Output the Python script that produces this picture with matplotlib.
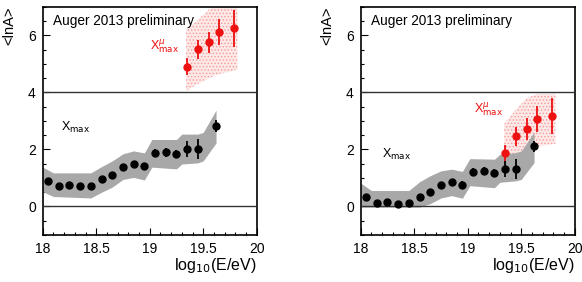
import numpy as np
import matplotlib
matplotlib.use("Agg")
import matplotlib.pyplot as plt
from matplotlib.ticker import MultipleLocator

plt.rcParams['font.family'] = ['Liberation Sans', 'DejaVu Sans']
plt.rcParams['hatch.linewidth'] = 0.6

# energy bins
x_xmax = [18.05, 18.15, 18.25, 18.35, 18.45, 18.55, 18.65, 18.75, 18.85, 18.95,
          19.05, 19.15, 19.25, 19.35, 19.45, 19.62]
x_mu = [19.35, 19.45, 19.55, 19.65, 19.79]

# left panel (first model)
lnA_xmax_L = [0.90, 0.72, 0.76, 0.72, 0.73, 0.97, 1.12, 1.40, 1.49, 1.41,
              1.88, 1.90, 1.84, 2.01, 2.02, 2.82]
lnA_mu_L = [4.90, 5.52, 5.76, 6.13, 6.25]
# right panel (second model)
lnA_xmax_R = [0.32, 0.14, 0.16, 0.10, 0.12, 0.35, 0.50, 0.77, 0.85, 0.77,
              1.22, 1.24, 1.17, 1.32, 1.31, 2.11]
lnA_mu_R = [1.87, 2.47, 2.71, 3.07, 3.17]

# statistical errors
err_xmax = [0.05, 0.05, 0.05, 0.05, 0.05, 0.06, 0.07, 0.08, 0.08, 0.12,
            0.12, 0.15, 0.15, 0.28, 0.35, 0.20]
err_mu = [0.30, 0.33, 0.38, 0.45, 0.64]

# systematic bands
band_x = [18.0, 18.1, 18.45, 18.55, 18.65, 18.75, 18.85, 18.95, 19.02,
          19.25, 19.3, 19.45, 19.5, 19.62]
band_hi_L = [1.38, 1.18, 1.18, 1.40, 1.60, 1.85, 1.95, 1.88, 2.35,
             2.35, 2.54, 2.54, 2.60, 3.38]
band_lo_L = [0.52, 0.35, 0.30, 0.50, 0.68, 0.95, 1.02, 0.93, 1.38,
             1.32, 1.49, 1.53, 1.60, 2.23]
band_hi_R = [0.82, 0.56, 0.56, 0.87, 1.08, 1.25, 1.31, 1.23, 1.68,
             1.66, 1.83, 1.89, 1.95, 2.61]
band_lo_R = [-0.02, -0.02, -0.02, -0.02, 0.10, 0.30, 0.38, 0.29, 0.73,
             0.66, 0.85, 0.90, 0.95, 1.54]

mu_band_x = [19.34, 19.45, 19.55, 19.65, 19.82]
mu_hi_L = [6.20, 6.55, 6.90, 7.10, 7.30]
mu_lo_L = [4.05, 4.30, 4.50, 4.65, 4.80]
mu_hi_R = [2.90, 3.40, 3.80, 3.95, 3.95]
mu_lo_R = [1.60, 1.80, 2.00, 2.10, 2.20]

panels = [
    (lnA_xmax_L, lnA_mu_L, band_lo_L, band_hi_L, mu_lo_L, mu_hi_L, (18.17, 2.79), (19.0, 5.63)),
    (lnA_xmax_R, lnA_mu_R, band_lo_R, band_hi_R, mu_lo_R, mu_hi_R, (18.2, 1.83), (19.06, 3.4)),
]

fig = plt.figure(figsize=(5.82, 2.82), dpi=100)
lefts = [0.0734, 0.6198]

for left, (yx, ym, blo, bhi, mlo, mhi, pos_x, pos_m) in zip(lefts, panels):
    ax = fig.add_axes([left, 0.1667, 0.3677, 0.8085])
    ax.fill_between(mu_band_x, mlo, mhi, facecolor='#fde8e8', edgecolor='#f59a9a',
                    hatch='.....', linewidth=0, zorder=1)
    ax.fill_between(band_x, blo, bhi, color='#a8a8a8', linewidth=0, zorder=2)
    ax.axhline(0, color='#333333', lw=1.0, zorder=3)
    ax.axhline(4, color='#333333', lw=1.0, zorder=3)
    ax.errorbar(x_mu, ym, yerr=err_mu, fmt='o', color='#ee1111', ms=5,
                elinewidth=1.3, capsize=0, zorder=4)
    ax.errorbar(x_xmax, yx, yerr=err_xmax, fmt='o', color='black', ms=5,
                elinewidth=1.3, capsize=0, zorder=5)

    ax.text(18.1, 6.5, 'Auger 2013 preliminary', fontsize=9.8, va='center')
    ax.text(pos_x[0], pos_x[1], r'X$_{\rm max}$', fontsize=9, va='center')
    ax.text(pos_m[0], pos_m[1], r'X$^{\mu}_{\rm max}$', fontsize=9, va='center',
            color='#ee1111')

    ax.set_xlim(18, 20)
    ax.set_ylim(-1, 7)
    ax.set_xticks([18, 18.5, 19, 19.5, 20])
    ax.set_xticklabels(['18', '18.5', '19', '19.5', '20'])
    ax.set_yticks([0, 2, 4, 6])
    ax.xaxis.set_minor_locator(MultipleLocator(0.1))
    ax.yaxis.set_minor_locator(MultipleLocator(0.5))
    ax.tick_params(which='both', direction='in', top=False, right=False,
                   labelsize=10, pad=5)
    ax.tick_params(which='major', length=5, width=0.8)
    ax.tick_params(which='minor', length=2.5, width=0.8)
    for s in ax.spines.values():
        s.set_linewidth(1.2)

    ax.text(1.0, -0.135, r'log$_{10}$(E/eV)', transform=ax.transAxes,
            ha='right', va='center', fontsize=11.5)
    ax.text(-0.155, 1.0, '<lnA>', transform=ax.transAxes, rotation=90,
            ha='center', va='top', fontsize=10.5)

fig.savefig('out.png', dpi=100)
